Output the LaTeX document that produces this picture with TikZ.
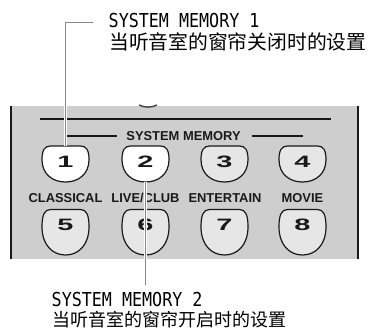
\documentclass[tikz,border=0pt]{standalone}
\usepackage{fontspec}
\usepackage{graphicx}
\newfontfamily\monof{DejaVu Sans Mono}
\newfontfamily\cjkf{Noto Sans CJK SC}
\newfontfamily\labf{Liberation Sans}
\definecolor{panelgray}{RGB}{206,206,206}
\definecolor{btngray}{RGB}{230,230,230}
\definecolor{calloutgray}{RGB}{135,135,135}
\definecolor{inkc}{RGB}{25,25,25}
\newcommand\drawbtn[5]{%
  \filldraw[btnline, fill=#4] ({#1-15},#2) -- ({#1+15},#2)
   .. controls ({#1+21},#2) and ({#1+23.5},{#2+0.12*#3}) .. ({#1+23.5},{#2+0.38*#3})
   .. controls ({#1+23.5},{#2+0.78*#3}) and ({#1+13},{#2+#3}) .. ({#1},{#2+#3})
   .. controls ({#1-13},{#2+#3}) and ({#1-23.5},{#2+0.78*#3}) .. ({#1-23.5},{#2+0.38*#3})
   .. controls ({#1-23.5},{#2+0.12*#3}) and ({#1-21},#2) .. ({#1-15},#2) -- cycle;
  \coordinate (#5t) at (#1,#2);
  \coordinate (#5b) at (#1,{#2+#3});
}
\begin{document}
\begin{tikzpicture}[x=1pt,y=-1pt,
  btnline/.style={draw=inkc, line width=1.2pt},
  numtxt/.style={inner sep=0pt, font=\labf\bfseries\fontsize{16.5}{17}\selectfont, text=inkc},
  labtxt/.style={inner sep=0pt, anchor=base, font=\labf\bfseries\fontsize{12.9}{13}\selectfont, text=inkc},
  monotxt/.style={inner sep=0pt, anchor=base west, font=\monof\fontsize{16.7}{17}\selectfont, text=black},
  cjktxt/.style={inner sep=0pt, anchor=west, text=black},
  callout/.style={draw=white, line width=0.9pt, double=calloutgray, double distance=1.5pt},
  rule/.style={draw=inkc, line width=1.6pt}]
\useasboundingbox (0,0) rectangle (370,329);
% panel
\fill[panelgray] (11,106) rectangle (358,259);
\draw[inkc, line width=2.4pt] (11,106) -- (11,259);
\draw[inkc, line width=2.4pt] (358,106) -- (358,259);
\draw[gray!50!black, line width=1.4pt] (139,105) .. controls (144,107.8) and (152,107.8) .. (157,105);
% rules
\draw[rule] (39.5,119.3) -- (331,119.3);
\node[labtxt] (sm) at (183.5,140) {SYSTEM MEMORY};
\draw[rule] (66.7,136) -- (116.7,136);
\draw[rule] (251.7,136) -- (303.3,136);
% row 2 labels
\node[labtxt] (l5) at (65.5,202.7) {CLASSICAL};
\node[labtxt] (l6) at (145.5,202.7) {LIVE/CLUB};
\node[labtxt] (l7) at (225,202.7) {ENTERTAIN};
\node[labtxt] (l8) at (302.5,202.7) {MOVIE};
% buttons row 1
\drawbtn{65.5}{146}{36}{white}{b1}
\drawbtn{145.5}{146}{36}{white}{b2}
\drawbtn{224.5}{146}{36}{btngray}{b3}
\drawbtn{302.5}{146}{36}{btngray}{b4}
% buttons row 2
\drawbtn{65.5}{209.5}{45.5}{btngray}{b5}
\drawbtn{145.5}{209.5}{45.5}{btngray}{b6}
\drawbtn{224.5}{209.5}{45.5}{btngray}{b7}
\drawbtn{302.5}{209.5}{45.5}{btngray}{b8}
% numbers
\node[numtxt] (n1) at (65.5,162) {\scalebox{1.75}[1]{1}};
\node[numtxt] (n2) at (145.5,162) {\scalebox{1.75}[1]{2}};
\node[numtxt] (n3) at (224.5,162) {\scalebox{1.75}[1]{3}};
\node[numtxt] (n4) at (302.5,162) {\scalebox{1.75}[1]{4}};
\node[numtxt] (n5) at (65.5,225) {\scalebox{1.75}[1]{5}};
\node[numtxt] (n6) at (145.5,225) {\scalebox{1.75}[1]{6}};
\node[numtxt] (n7) at (224.5,225) {\scalebox{1.75}[1]{7}};
\node[numtxt] (n8) at (302.5,225) {\scalebox{1.75}[1]{8}};
% callouts
\coordinate (c1) at (93,22.5);
\coordinate (c2) at (145.5,285);
\draw[callout] (b1t) |- (c1);
\draw[callout] (b2b) -- (c2);
% texts
\node[monotxt] (t1) at (108.5,28) {\scalebox{1}[1.15]{SYSTEM MEMORY 1}};
\node[cjktxt, font=\cjkf\fontsize{19.8}{20}\selectfont] (t1c) at (109,42) {当听音室的窗帘关闭时的设置};
\node[monotxt] (t2) at (51.5,306) {\scalebox{1}[1.15]{SYSTEM MEMORY 2}};
\node[cjktxt, font=\cjkf\fontsize{18}{18}\selectfont] (t2c) at (52,320) {当听音室的窗帘开启时的设置};
\end{tikzpicture}
\end{document}
